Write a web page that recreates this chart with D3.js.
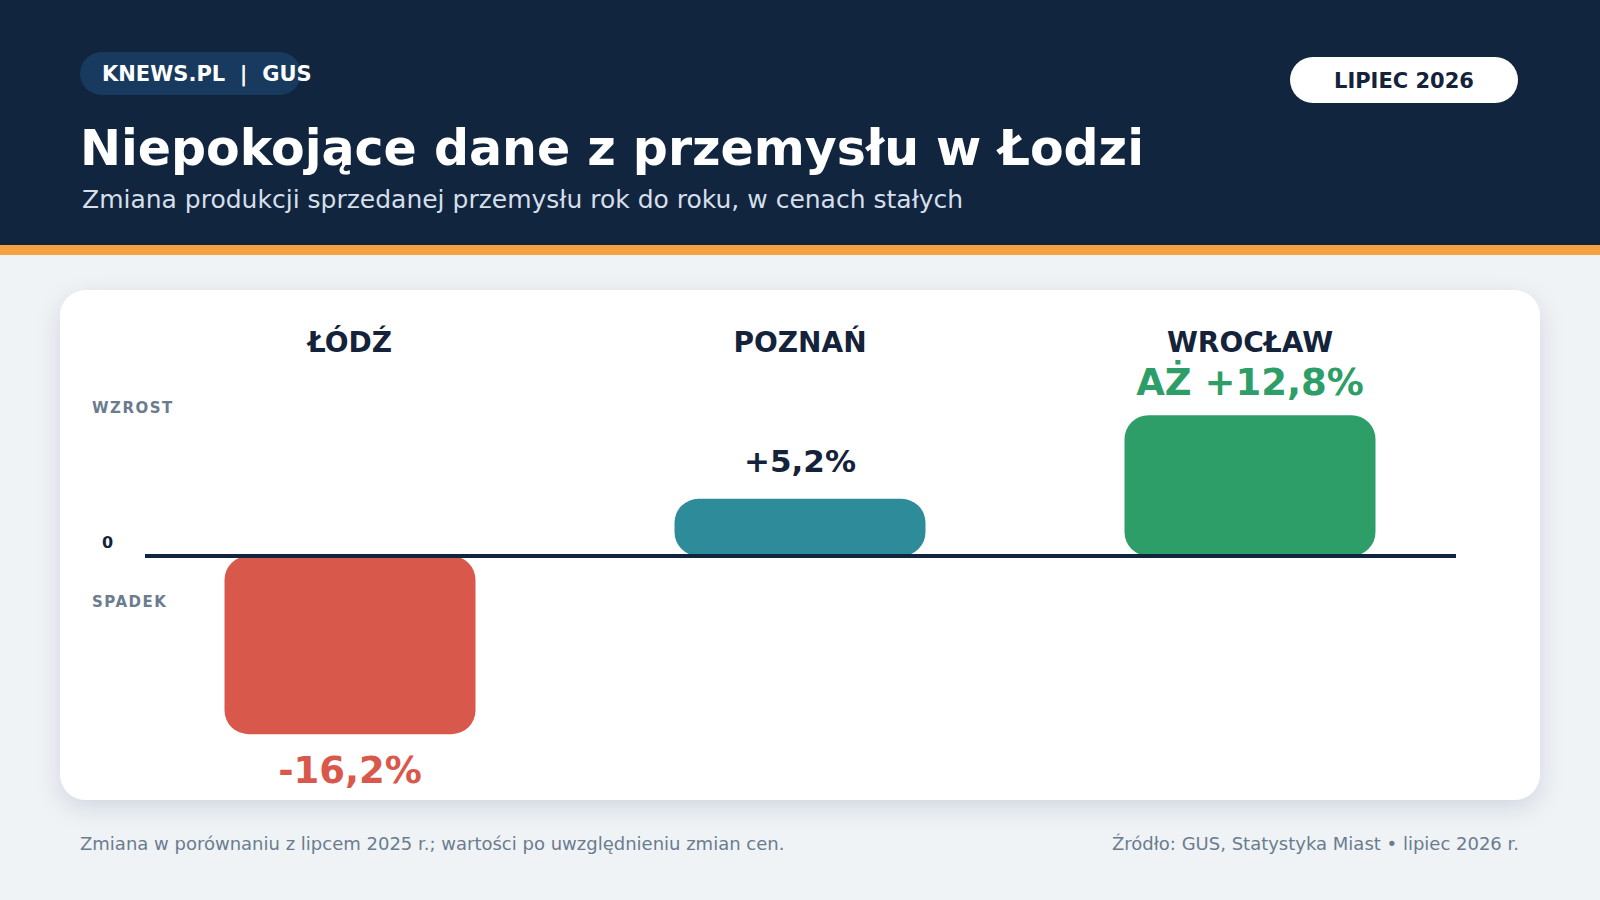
<!DOCTYPE html>
<html lang="pl">
<head>
<meta charset="utf-8">
<title>Niepokojące dane z przemysłu w Łodzi</title>
<script src="https://cdn.jsdelivr.net/npm/d3@7"></script>
<style>
  html, body { margin: 0; padding: 0; background: #eff3f6; }
  svg { display: block; font-family: "DejaVu Sans", sans-serif; }
</style>
</head>
<body>
<div id="chart"></div>
<script>
// Dane: dynamika produkcji sprzedanej przemysłu r/r (lipiec 2026)
const cities = ["ŁÓDŹ", "POZNAŃ", "WROCŁAW"];
const values = [-16.2, 5.2, 12.8];
const valueLabels = ["-16,2%", "+5,2%", "AŻ +12,8%"];
const barColors = ["#d9584c", "#2e8b9a", "#2e9e68"];
const labelColors = ["#d9584c", "#14233a", "#2e9e68"];

const width = 1600;
const height = 900;

const svg = d3.select("#chart")
    .append("svg")
    .attr("width", width)
    .attr("height", height);

// Cień karty
const defs = svg.append("defs");
const shadow = defs.append("filter")
    .attr("id", "cardShadow")
    .attr("x", "-10%").attr("y", "-10%")
    .attr("width", "120%").attr("height", "130%");
shadow.append("feDropShadow")
    .attr("dx", 0).attr("dy", 8)
    .attr("stdDeviation", 12)
    .attr("flood-color", "#0f2440")
    .attr("flood-opacity", 0.12);

// Tło
svg.append("rect").attr("width", width).attr("height", height).attr("fill", "#eff3f6");

// Nagłówek
svg.append("rect").attr("width", width).attr("height", 245).attr("fill", "#11253f");
svg.append("rect").attr("y", 245).attr("width", width).attr("height", 10).attr("fill", "#f5a340");

svg.append("rect")
    .attr("x", 80).attr("y", 52)
    .attr("width", 221).attr("height", 43)
    .attr("rx", 21.5)
    .attr("fill", "#173a5e");
svg.append("text")
    .attr("x", 102).attr("y", 81)
    .attr("fill", "#ffffff")
    .attr("font-size", 21)
    .attr("font-weight", "bold")
    .attr("xml:space", "preserve")
    .text("KNEWS.PL  |  GUS");

svg.append("rect")
    .attr("x", 1290).attr("y", 57)
    .attr("width", 228).attr("height", 46)
    .attr("rx", 23)
    .attr("fill", "#ffffff");
svg.append("text")
    .attr("x", 1404).attr("y", 88)
    .attr("text-anchor", "middle")
    .attr("fill", "#14233a")
    .attr("font-size", 21)
    .attr("font-weight", "bold")
    .text("LIPIEC 2026");

svg.append("text")
    .attr("x", 80).attr("y", 165)
    .attr("fill", "#ffffff")
    .attr("font-size", 49)
    .attr("font-weight", "bold")
    .text("Niepokojące dane z przemysłu w Łodzi");

svg.append("text")
    .attr("x", 82).attr("y", 208)
    .attr("fill", "#d5dfea")
    .attr("font-size", 25)
    .text("Zmiana produkcji sprzedanej przemysłu rok do roku, w cenach stałych");

// Karta wykresu
svg.append("rect")
    .attr("x", 60).attr("y", 290)
    .attr("width", 1480).attr("height", 510)
    .attr("rx", 26)
    .attr("fill", "#ffffff")
    .attr("filter", "url(#cardShadow)");

// Skale
const x = d3.scalePoint()
    .domain(cities)
    .range([350, 1250]);

const y = d3.scaleLinear()
    .domain([-20, 20])
    .range([776, 336]);

const barWidth = 251;

const g = svg.append("g");

// Nazwy miast
g.selectAll(".city")
    .data(cities)
    .join("text")
    .attr("class", "city")
    .attr("x", d => x(d))
    .attr("y", 352)
    .attr("text-anchor", "middle")
    .attr("fill", "#14233a")
    .attr("font-size", 28)
    .attr("font-weight", "bold")
    .text(d => d);

// Opisy osi
g.append("text")
    .attr("x", 92).attr("y", 413)
    .attr("fill", "#6b7c8f")
    .attr("font-size", 15)
    .attr("font-weight", "bold")
    .attr("letter-spacing", 1.5)
    .text("WZROST");
g.append("text")
    .attr("x", 92).attr("y", 607)
    .attr("fill", "#6b7c8f")
    .attr("font-size", 15)
    .attr("font-weight", "bold")
    .attr("letter-spacing", 1.5)
    .text("SPADEK");
g.append("text")
    .attr("x", 102).attr("y", 548)
    .attr("fill", "#14233a")
    .attr("font-size", 16)
    .attr("font-weight", "bold")
    .text("0");

// Słupki
const data = cities.map((c, i) => ({
    city: c, value: values[i], label: valueLabels[i],
    color: barColors[i], labelColor: labelColors[i]
}));

g.selectAll(".bar")
    .data(data)
    .join("rect")
    .attr("class", "bar")
    .attr("x", d => x(d.city) - barWidth / 2)
    .attr("y", d => y(Math.max(0, d.value)))
    .attr("width", barWidth)
    .attr("height", d => Math.abs(y(d.value) - y(0)))
    .attr("rx", 24)
    .attr("fill", d => d.color);

// Linia zera
g.append("line")
    .attr("x1", 145).attr("x2", 1456)
    .attr("y1", y(0)).attr("y2", y(0))
    .attr("stroke", "#11253f")
    .attr("stroke-width", 4);

// Etykiety wartości
g.selectAll(".value")
    .data(data)
    .join("text")
    .attr("class", "value")
    .attr("x", d => x(d.city))
    .attr("y", d => d.value >= 0 ? y(d.value) - (d.value > 10 ? 20 : 27) : y(d.value) + 49)
    .attr("text-anchor", "middle")
    .attr("fill", d => d.labelColor)
    .attr("font-size", d => d.value > 0 && d.value < 10 ? 31 : 37)
    .attr("font-weight", "bold")
    .text(d => d.label);

// Stopka
svg.append("text")
    .attr("x", 80).attr("y", 850)
    .attr("fill", "#6b7c8f")
    .attr("font-size", 18)
    .text("Zmiana w porównaniu z lipcem 2025 r.; wartości po uwzględnieniu zmian cen.");
svg.append("text")
    .attr("x", 1519).attr("y", 850)
    .attr("text-anchor", "end")
    .attr("fill", "#6b7c8f")
    .attr("font-size", 18)
    .text("Źródło: GUS, Statystyka Miast • lipiec 2026 r.");
</script>
</body>
</html>
